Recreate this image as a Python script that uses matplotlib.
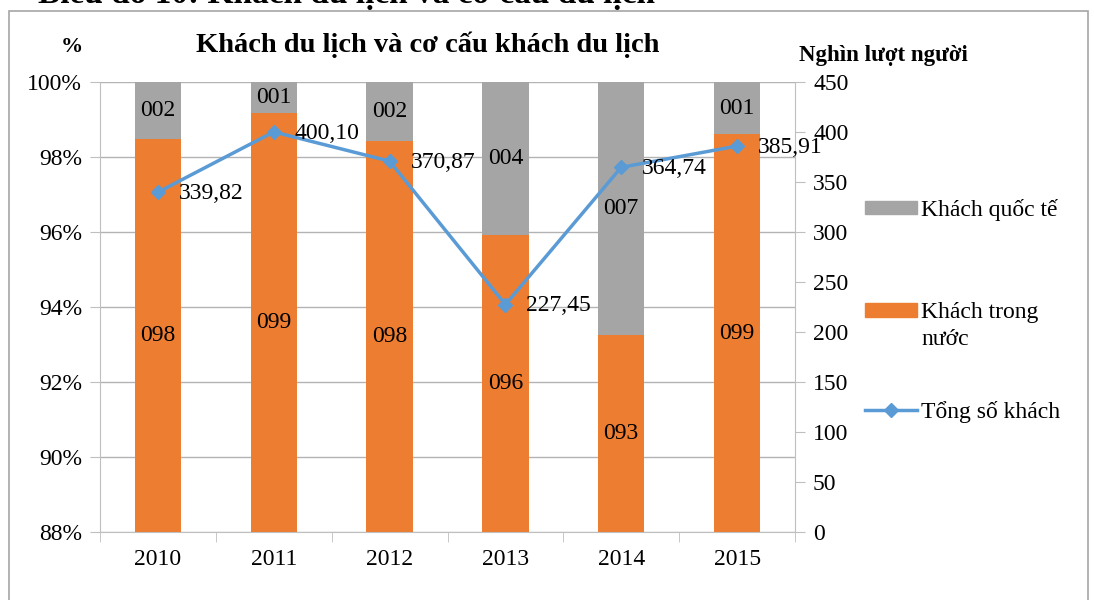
import numpy as np
import matplotlib
matplotlib.use("Agg")
import matplotlib.pyplot as plt
from matplotlib.patches import Patch, Rectangle
from matplotlib.lines import Line2D

plt.rcParams['font.family'] = ['Liberation Serif', 'DejaVu Serif']

years = ['2010', '2011', '2012', '2013', '2014', '2015']
domestic = [98.47, 99.17, 98.43, 95.92, 93.25, 98.61]   # % khach trong nuoc
international = [100 - v for v in domestic]              # % khach quoc te
total = [339.82, 400.10, 370.87, 227.45, 364.74, 385.91]  # nghin luot nguoi
total_labels = ['339,82', '400,10', '370,87', '227,45', '364,74', '385,91']

c_dom = '#ED7D31'
c_int = '#A5A5A5'
c_line = '#5B9BD5'
c_axis = '#BFBFBF'
fs = 17

fig = plt.figure(figsize=(10.94, 6), dpi=100)
ax = fig.add_axes([100/1094, 68/600, 695/1094, 450/600])
x = np.arange(len(years))

ax.bar(x, domestic, width=0.4, color=c_dom, zorder=2)
ax.bar(x, international, width=0.4, bottom=domestic, color=c_int, zorder=2)
ax.set_ylim(88, 100)
ax.set_xlim(-0.5, len(years) - 0.5)
ax.set_yticks(np.arange(88, 101, 2))
ax.set_yticklabels([f'{v}%' for v in range(88, 101, 2)], fontsize=fs)
ax.yaxis.grid(True, color='#B3B3B3', linewidth=1, zorder=0)
ax.set_axisbelow(True)
ax.set_xticks(x)
ax.set_xticklabels(years, fontsize=fs)
ax.set_xticks(np.arange(-0.5, len(years), 1), minor=True)
ax.tick_params(axis='x', which='major', length=0, pad=12)
ax.tick_params(axis='x', which='minor', length=7, color=c_axis, direction='out')
ax.tick_params(axis='y', length=7, color=c_axis, pad=6)
for s in ['top', 'right']:
    ax.spines[s].set_visible(False)
for s in ['left', 'bottom']:
    ax.spines[s].set_color(c_axis)

for xi, d, i in zip(x, domestic, international):
    ax.text(xi, (88 + d) / 2, f'{d:03.0f}', ha='center', va='center', fontsize=fs, zorder=4)
    ax.text(xi, d + i / 2, f'{i:03.0f}', ha='center', va='center', fontsize=fs, zorder=4)

ax2 = ax.twinx()
ax2.plot(x, total, color=c_line, linewidth=2.5, marker='D', markersize=7.5, zorder=5)
ax2.set_ylim(0, 450)
ax2.set_yticks(np.arange(0, 451, 50))
ax2.tick_params(axis='y', labelsize=fs, length=7, color=c_axis, pad=6)
for s in ['top', 'left', 'bottom']:
    ax2.spines[s].set_visible(False)
ax2.spines['right'].set_color(c_axis)
for xi, t, lab in zip(x, total, total_labels):
    ax2.annotate(lab, (xi, t), xytext=(15, -1), textcoords='offset points',
                 ha='left', va='center', fontsize=fs, zorder=6)

# titles
fig.text(428/1094, 1 - 45/600, 'Khách du lịch và cơ cấu khách du lịch',
         ha='center', va='center', fontsize=20.5, fontweight='bold')
fig.text(72/1094, 1 - 47/600, '%', ha='center', va='center', fontsize=16, fontweight='bold')
fig.text(883/1094, 1 - 55/600, 'Nghìn lượt người', ha='center', va='center',
         fontsize=16.5, fontweight='bold')
fig.text(38/1094, 1 - 3/600, 'Biểu đồ 10: Khách du lịch và cơ cấu du lịch',
         ha='left', va='baseline', fontsize=24, fontweight='bold')

# outer border
fig.add_artist(Rectangle((9/1094, -0.05), 1079/1094, 1.05 - 11/600,
                         transform=fig.transFigure, fill=False,
                         edgecolor='#A6A6A6', linewidth=1.2))

# legend
leg_kw = dict(frameon=False, fontsize=fs, borderpad=0, borderaxespad=0,
              handlelength=2.2, handleheight=0.5, handletextpad=0.17,
              loc='center left')
fig.legend([Patch(color=c_int)], ['Khách quốc tế'],
           bbox_to_anchor=(865/1094, 1 - 210/600), **leg_kw)
fig.legend([Patch(color=c_dom), Patch(facecolor='none', edgecolor='none')],
           ['Khách trong', 'nước'], labelspacing=0.22,
           bbox_to_anchor=(865/1094, 1 - 326/600), **leg_kw)
fig.legend([Line2D([], [], color=c_line, linewidth=2.5, marker='D', markersize=7.5)],
           ['Tổng số khách'], bbox_to_anchor=(865/1094, 1 - 412/600), **leg_kw)

fig.savefig('out.png', dpi=100)
